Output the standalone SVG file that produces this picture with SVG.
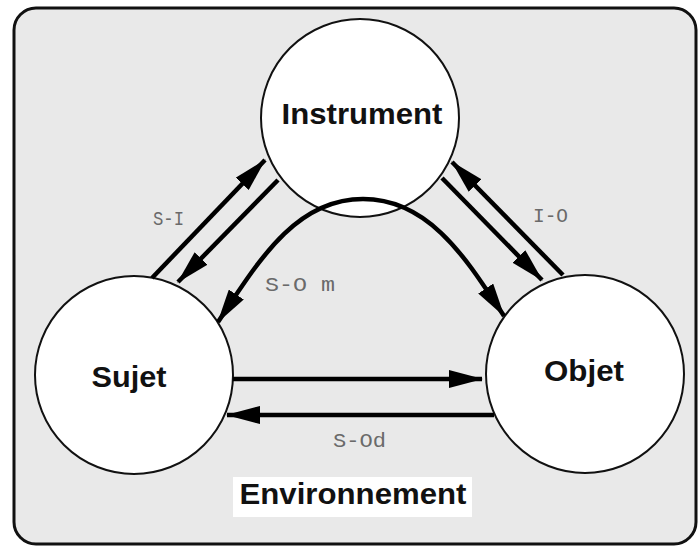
<svg xmlns="http://www.w3.org/2000/svg" width="698" height="548" viewBox="0 0 698 548">
  <style>
    .node { fill: #ffffff; stroke: #111; stroke-width: 2; }
    .title { font-family: "Liberation Sans", Arial, sans-serif; font-weight: bold; font-size: 29px; fill: #111; text-anchor: middle; }
    .lbl { font-family: "Liberation Mono", "Courier New", monospace; font-size: 20px; fill: #6a6a6a; }
    .conn { fill: none; stroke: #000; stroke-width: 4.5; }
  </style>
  <defs>
    <marker id="ah" markerUnits="userSpaceOnUse" markerWidth="34" markerHeight="18" refX="33" refY="9" orient="auto-start-reverse">
      <path d="M0,0 L34,9 L0,18 z" fill="#000"/>
    </marker>
  </defs>
  <rect id="frame" x="14" y="8" width="682" height="536" rx="22" ry="22" fill="#e9e9e9" stroke="#111" stroke-width="3"/>

  <g id="instrument">
    <circle class="node" cx="360" cy="118" r="99"/>
  </g>
  <g id="sujet">
    <circle class="node" cx="134" cy="375" r="99"/>
  </g>
  <g id="objet">
    <circle class="node" cx="585" cy="374" r="99"/>
  </g>

  <g id="connectors">
    <line class="conn" x1="152" y1="278" x2="265" y2="160" marker-end="url(#ah)"/>
    <line class="conn" x1="278" y1="180" x2="178" y2="282" marker-end="url(#ah)"/>
    <line class="conn" x1="563" y1="275" x2="452" y2="162" marker-end="url(#ah)"/>
    <line class="conn" x1="442" y1="178" x2="542" y2="280" marker-end="url(#ah)"/>
    <path class="conn" d="M218,322 C258,262 295,199 363,199 C431,199 468,262 504,316" marker-start="url(#ah)" marker-end="url(#ah)"/>
    <line class="conn" x1="233" y1="379" x2="482" y2="379" marker-end="url(#ah)"/>
    <line class="conn" x1="494" y1="415" x2="227" y2="415" marker-end="url(#ah)"/>
    <text class="lbl" x="153" y="225" textLength="31" lengthAdjust="spacingAndGlyphs">S-I</text>
    <text class="lbl" x="533" y="222" textLength="35" lengthAdjust="spacingAndGlyphs">I-O</text>
    <text class="lbl" x="265" y="291" textLength="70" lengthAdjust="spacingAndGlyphs">S-O m</text>
    <text class="lbl" x="333" y="447" textLength="53" lengthAdjust="spacingAndGlyphs">S-Od</text>
  </g>

  <g id="instrument-label">
    <text class="title" x="362" y="124" textLength="161" lengthAdjust="spacingAndGlyphs">Instrument</text>
  </g>
  <g id="sujet-label">
    <text class="title" x="129" y="387" textLength="75" lengthAdjust="spacingAndGlyphs">Sujet</text>
  </g>
  <g id="objet-label">
    <text class="title" x="584" y="381" textLength="80" lengthAdjust="spacingAndGlyphs">Objet</text>
  </g>
  <g id="environnement">
    <rect x="233" y="477" width="239" height="40" fill="#ffffff"/>
    <text class="title" x="353" y="504" textLength="227" lengthAdjust="spacingAndGlyphs">Environnement</text>
  </g>
</svg>
